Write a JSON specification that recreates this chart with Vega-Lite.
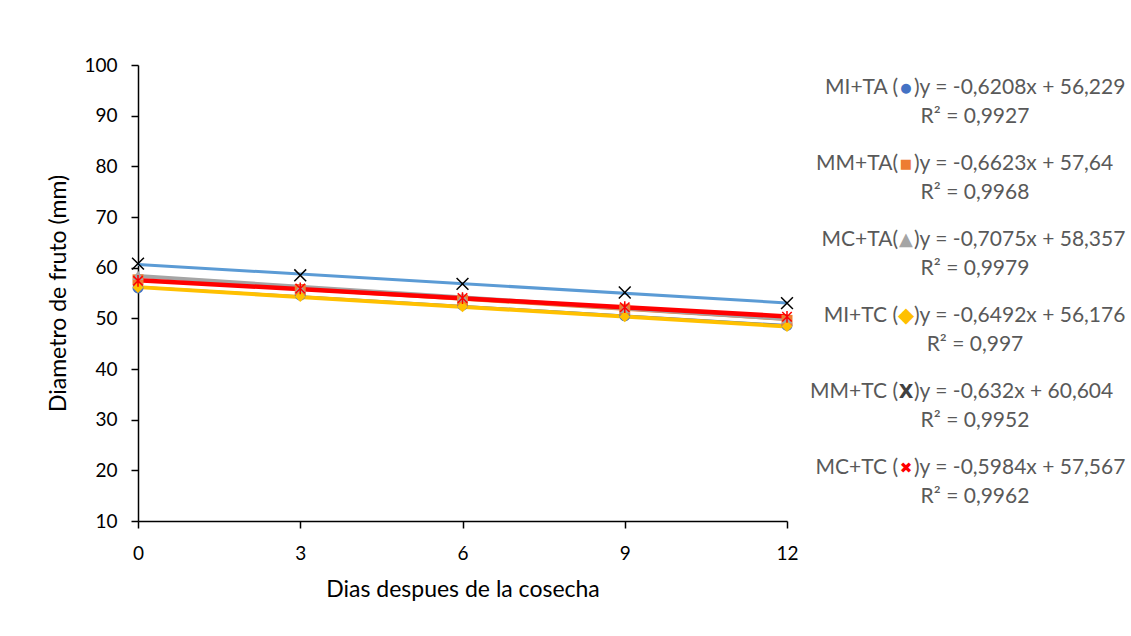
{
  "$schema": "https://vega.github.io/schema/vega-lite/v6.json",
  "padding": {"left": 47, "top": 56, "right": 0, "bottom": 0},
  "background": "white",
  "config": {
    "font": "Lato",
    "view": {"stroke": null},
    "axis": {
      "grid": false,
      "labelFlush": false,
      "domainColor": "#000000",
      "tickColor": "#000000",
      "labelColor": "#000000",
      "titleColor": "#000000",
      "labelFontSize": 19,
      "titleFontSize": 23,
      "titleFontWeight": "normal",
      "labelFont": "Lato",
      "titleFont": "Lato",
      "tickSize": 7,
      "domainWidth": 1.5,
      "tickWidth": 1.5
    }
  },
  "datasets": {
    "points": [
      {"series": "MI+TA", "x": 0, "y": 56.0},
      {"series": "MI+TA", "x": 3, "y": 54.6},
      {"series": "MI+TA", "x": 6, "y": 52.6},
      {"series": "MI+TA", "x": 9, "y": 50.5},
      {"series": "MI+TA", "x": 12, "y": 48.6},
      {"series": "MM+TA", "x": 0, "y": 57.6},
      {"series": "MM+TA", "x": 3, "y": 55.7},
      {"series": "MM+TA", "x": 6, "y": 53.6},
      {"series": "MM+TA", "x": 9, "y": 51.8},
      {"series": "MM+TA", "x": 12, "y": 49.6},
      {"series": "MC+TA", "x": 0, "y": 58.5},
      {"series": "MC+TA", "x": 3, "y": 56.0},
      {"series": "MC+TA", "x": 6, "y": 54.2},
      {"series": "MC+TA", "x": 9, "y": 52.0},
      {"series": "MC+TA", "x": 12, "y": 49.9},
      {"series": "MI+TC", "x": 0, "y": 56.1},
      {"series": "MI+TC", "x": 3, "y": 54.3},
      {"series": "MI+TC", "x": 6, "y": 52.3},
      {"series": "MI+TC", "x": 9, "y": 50.3},
      {"series": "MI+TC", "x": 12, "y": 48.4},
      {"series": "MM+TC", "x": 0, "y": 60.8},
      {"series": "MM+TC", "x": 3, "y": 58.5},
      {"series": "MM+TC", "x": 6, "y": 56.8},
      {"series": "MM+TC", "x": 9, "y": 55.1},
      {"series": "MM+TC", "x": 12, "y": 53.0},
      {"series": "MC+TC", "x": 0, "y": 57.4},
      {"series": "MC+TC", "x": 3, "y": 55.9},
      {"series": "MC+TC", "x": 6, "y": 54.0},
      {"series": "MC+TC", "x": 9, "y": 52.2},
      {"series": "MC+TC", "x": 12, "y": 50.3}
    ],
    "labels": [
      {"series": "MI+TA", "prefix": "MI+TA (", "sym": "●", "eq": ")y = -0,6208x + 56,229", "r2": "R² = 0,9927"},
      {"series": "MM+TA", "prefix": "MM+TA(", "sym": "■", "eq": ")y = -0,6623x + 57,64", "r2": "R² = 0,9968"},
      {"series": "MC+TA", "prefix": "MC+TA(", "sym": "▲", "eq": ")y = -0,7075x + 58,357", "r2": "R² = 0,9979"},
      {"series": "MI+TC", "prefix": "MI+TC (", "sym": "◆", "eq": ")y = -0,6492x + 56,176", "r2": "R² = 0,997"},
      {"series": "MM+TC", "prefix": "MM+TC (", "sym": "X", "eq": ")y = -0,632x + 60,604", "r2": "R² = 0,9952"},
      {"series": "MC+TC", "prefix": "MC+TC (", "sym": "✖", "eq": ")y = -0,5984x + 57,567", "r2": "R² = 0,9962"}
    ]
  },
  "bounds": "flush",
  "spacing": 20,
  "resolve": {"scale": {"color": "independent", "y": "independent", "x": "independent"}},
  "hconcat": [
    {
      "width": 649,
      "height": 456,
      "data": {"name": "points"},
      "encoding": {
        "x": {"field": "x", "type": "quantitative", "scale": {"domain": [0, 12], "nice": false}, "title": "Dias despues de la cosecha",
          "axis": {"values": [0, 3, 6, 9, 12], "labelPadding": 16, "titlePadding": 15}},
        "y": {"field": "y", "type": "quantitative", "scale": {"domain": [10, 100], "nice": false, "zero": false}, "title": "Diametro de fruto (mm)",
          "axis": {"values": [10, 20, 30, 40, 50, 60, 70, 80, 90, 100], "labelPadding": 14, "titlePadding": 13}}
      },
      "layer": [
        {
          "transform": [{"regression": "y", "on": "x", "groupby": ["series"], "extent": [0, 12]}, {"filter": "datum.series === 'MM+TA' || datum.series === 'MI+TA'"}],
          "mark": {"type": "line", "strokeWidth": 2},
          "encoding": {"color": {"field": "series", "type": "nominal", "legend": null,
            "scale": {"domain": ["MI+TA", "MM+TA", "MC+TA", "MI+TC", "MM+TC", "MC+TC"], "range": ["#4472C4", "#ED7D31", "#A5A5A5", "#FFC000", "#5B9BD5", "#FF0000"]}}}
        },
        {
          "transform": [{"regression": "y", "on": "x", "groupby": ["series"], "extent": [0, 12]}, {"filter": "datum.series === 'MC+TA' || datum.series === 'MI+TC'"}],
          "mark": {"type": "line", "strokeWidth": 4},
          "encoding": {"color": {"field": "series", "type": "nominal", "legend": null,
            "scale": {"domain": ["MI+TA", "MM+TA", "MC+TA", "MI+TC", "MM+TC", "MC+TC"], "range": ["#4472C4", "#ED7D31", "#A5A5A5", "#FFC000", "#5B9BD5", "#FF0000"]}}}
        },
        {
          "transform": [{"regression": "y", "on": "x", "groupby": ["series"], "extent": [0, 12]}, {"filter": "datum.series === 'MM+TC'"}],
          "mark": {"type": "line", "strokeWidth": 3},
          "encoding": {"color": {"field": "series", "type": "nominal", "legend": null,
            "scale": {"domain": ["MI+TA", "MM+TA", "MC+TA", "MI+TC", "MM+TC", "MC+TC"], "range": ["#4472C4", "#ED7D31", "#A5A5A5", "#FFC000", "#5B9BD5", "#FF0000"]}}}
        },
        {
          "transform": [{"regression": "y", "on": "x", "groupby": ["series"], "extent": [0, 12]}, {"filter": "datum.series === 'MC+TC'"}],
          "mark": {"type": "line", "strokeWidth": 4.5},
          "encoding": {"color": {"field": "series", "type": "nominal", "legend": null,
            "scale": {"domain": ["MI+TA", "MM+TA", "MC+TA", "MI+TC", "MM+TC", "MC+TC"], "range": ["#4472C4", "#ED7D31", "#A5A5A5", "#FFC000", "#5B9BD5", "#FF0000"]}}}
        },
        {
          "transform": [{"filter": "datum.series !== 'MM+TC' && datum.series !== 'MC+TC'"}],
          "mark": {"type": "point", "filled": true, "size": 120, "opacity": 1},
          "encoding": {
            "color": {"field": "series", "type": "nominal", "legend": null,
              "scale": {"domain": ["MI+TA", "MM+TA", "MC+TA", "MI+TC"], "range": ["#4472C4", "#ED7D31", "#A5A5A5", "#FFC000"]}},
            "shape": {"field": "series", "type": "nominal", "legend": null,
              "scale": {"domain": ["MI+TA", "MM+TA", "MC+TA", "MI+TC"], "range": ["circle", "square", "triangle-up", "diamond"]}}
          }
        },
        {
          "transform": [{"filter": "datum.series === 'MM+TC' || datum.series === 'MC+TC'"}],
          "mark": {"type": "point", "filled": false, "size": 140, "strokeWidth": 1.5, "opacity": 1},
          "encoding": {
            "color": {"field": "series", "type": "nominal", "legend": null,
              "scale": {"domain": ["MM+TC", "MC+TC"], "range": ["#000000", "#FF0000"]}},
            "shape": {"field": "series", "type": "nominal", "legend": null,
              "scale": {"domain": ["MM+TC", "MC+TC"], "range": ["M-1,-1L1,1M1,-1L-1,1", "M-0.8,-0.8L0.8,0.8M0.8,-0.8L-0.8,0.8M0,-1L0,1"]}}
          }
        }
      ],
      "resolve": {"scale": {"color": "independent", "shape": "independent"}}
    },
    {
      "width": 198,
      "height": 456,
      "data": {"name": "labels"},
      "encoding": {
        "y": {"field": "series", "type": "nominal", "sort": ["MI+TA", "MM+TA", "MC+TA", "MI+TC", "MM+TC", "MC+TC"],
          "scale": {"type": "point", "padding": 0.5, "align": 0.3}, "axis": null}
      },
      "layer": [
        {"mark": {"type": "text", "align": "right", "dx": -8, "fontSize": 21, "color": "#595959", "font": "Lato"},
          "encoding": {"text": {"field": "prefix"}}},
        {"mark": {"type": "text", "align": "center", "fontWeight": "bold", "font": "DejaVu Sans"},
          "encoding": {"text": {"field": "sym"},
            "size": {"field": "series", "type": "nominal", "legend": null,
              "scale": {"type": "ordinal", "domain": ["MI+TA", "MM+TA", "MC+TA", "MI+TC", "MM+TC", "MC+TC"], "range": [13, 13, 18, 21, 19, 15]}},
            "color": {"field": "series", "type": "nominal", "legend": null,
              "scale": {"domain": ["MI+TA", "MM+TA", "MC+TA", "MI+TC", "MM+TC", "MC+TC"], "range": ["#4472C4", "#ED7D31", "#A5A5A5", "#FFC000", "#404040", "#FF0000"]}}}},
        {"mark": {"type": "text", "align": "left", "dx": 8, "fontSize": 21, "color": "#595959", "font": "Lato"},
          "encoding": {"text": {"field": "eq"}}},
        {"mark": {"type": "text", "align": "center", "dx": 69, "dy": 29, "fontSize": 21, "color": "#595959", "font": "Lato"},
          "encoding": {"text": {"field": "r2"}}}
      ]
    }
  ]
}
